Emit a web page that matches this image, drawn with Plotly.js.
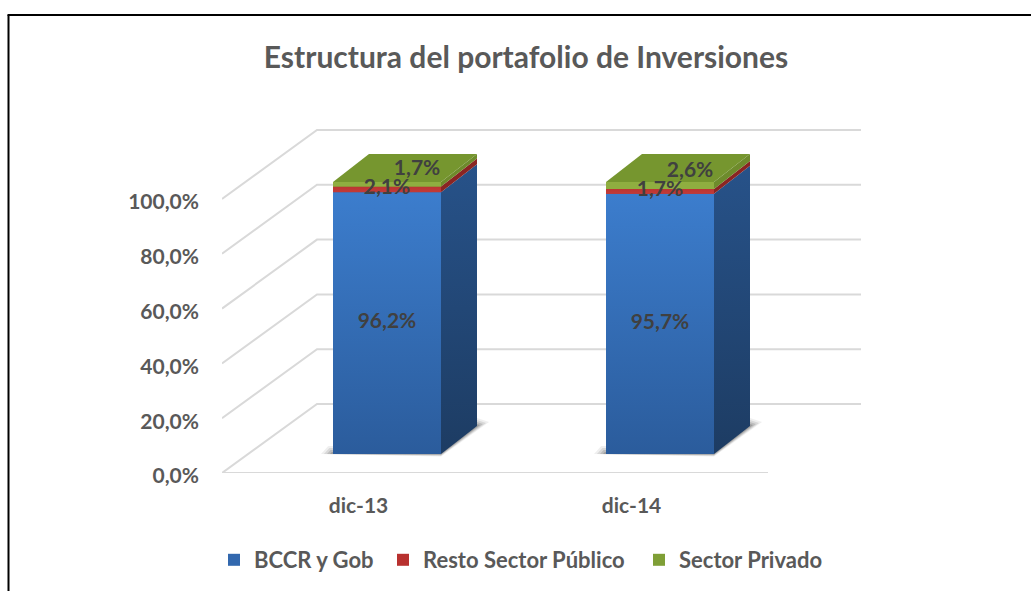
<!DOCTYPE html>
<html>
<head>
<meta charset="utf-8">
<script src="https://cdn.plot.ly/plotly-3.0.1.min.js"></script>
<style>html,body{margin:0;padding:0;background:#fff}</style>
</head>
<body>
<div id="chart" style="width:1031px;height:591px"></div>
<script>
const categories = ['dic-13', 'dic-14'];
const bccr = [96.2, 95.7];
const resto = [2.1, 1.7];
const privado = [1.7, 2.6];
const axisTicks = [0, 20, 40, 60, 80, 100];

const W = 1031, H = 591;
const FONT = 'Lato, Carlito, sans-serif';
const GREY = '#595959';
const pxX = 273, pxY = 2.74, pxY2 = 2.72;
const L = 222, R = 861, B = 473, T = 125;
const xr0 = -0.5, xr1 = xr0 + (R - L) / pxX;
const yr1 = (B - T) / pxY;
const wallDX = 95 / pxX, wallDY = 69 / pxY;
const barW = 108 / pxX, barLeft = -25.5 / pxX;
const depX = 36 / pxX, depY = 28 / pxY2;

const seriesDefs = [
  {name: 'BCCR y Gob', vals: bccr, solid: '#3268ae', front: ['#2b5c9c', '#3c7dcd'], side: ['#1d3c63', '#275289'], lw: 124},
  {name: 'Resto Sector Público', vals: resto, solid: '#b8312f', front: ['#c23b38', '#bb3532'], side: ['#8a2523', '#8a2523'], lw: 211},
  {name: 'Sector Privado', vals: privado, solid: '#7f9f36', front: ['#8fae40', '#8fae40'], side: ['#6e8b2c', '#6e8b2c'], lw: 145}
];

function fmt(v) { return v.toFixed(1).replace('.', ',') + '%'; }
function poly(xs, ys, colors, yaxis, opacity) {
  const t = {
    type: 'scatter', mode: 'lines', x: xs.concat(xs[0]), y: ys.concat(ys[0]),
    fill: 'toself', line: {width: 0, color: 'rgba(0,0,0,0)'}, yaxis: yaxis,
    showlegend: false, hoverinfo: 'skip', opacity: opacity === undefined ? 1 : opacity
  };
  if (colors[0] === colors[1]) t.fillcolor = colors[0];
  else t.fillgradient = {type: 'vertical', colorscale: [[0, colors[0]], [1, colors[1]]]};
  return t;
}
function line(xs, ys) {
  return {type: 'scatter', mode: 'lines', x: xs, y: ys, yaxis: 'y',
    line: {color: '#d9d9d9', width: 2}, showlegend: false, hoverinfo: 'skip'};
}

const traces = [];
axisTicks.forEach(v => {
  traces.push(line([xr0, xr0 + wallDX, xr1], [v, v + wallDY, v + wallDY]));
});
traces.push(line([xr0, xr0 + 546 / pxX], [0, 0]));

// soft contact shadows on the floor, stacked translucent layers
const floorY = 19 / pxY;
categories.forEach((c, i) => {
  const xl = i + barLeft, xre = xl + barW;
  [[12, 8, 0.08], [9, 6, 0.12], [6, 4, 0.16], [3, 2, 0.22]].forEach(s => {
    const ex = s[0] / pxX, ey = s[1] / pxY;
    traces.push(poly(
      [xl - ex, xre, xre + depX + ex, xre + depX, xre, xl - ex * 0.4],
      [floorY, floorY - ey * 0.3, floorY + depY * pxY2 / pxY + ey * 0.5, floorY + depY * pxY2 / pxY + ey, floorY + ey, floorY + ey],
      ['#303030', '#303030'], 'y', s[2]));
  });
});

seriesDefs.forEach(s => {
  traces.push({
    type: 'bar', name: s.name, x: categories.map((c, i) => i), y: s.vals, yaxis: 'y2',
    width: barW, offset: barLeft, marker: {color: s.solid, line: {width: 0}}, hoverinfo: 'skip',
    legendwidth: s.lw
  });
});

categories.forEach((c, i) => {
  const xl = i + barLeft, xre = xl + barW;
  let lo = 0;
  seriesDefs.forEach(s => {
    const hi = lo + s.vals[i];
    traces.push(poly([xl, xre, xre, xl], [lo, lo, hi, hi], s.front, 'y2'));
    traces.push(poly([xre, xre + depX, xre + depX, xre], [lo, lo + depY, hi + depY, hi], s.side, 'y2'));
    lo = hi;
  });
  traces.push(poly([xl, xre, xre + depX, xl + depX], [lo, lo, lo + depY, lo + depY], ['#76962f', '#76962f'], 'y2'));
});

const lx = [], ly = [], lt = [];
categories.forEach((c, i) => {
  const mid = i + barLeft + barW / 2;
  lx.push(mid); ly.push(bccr[i] / 2); lt.push(fmt(bccr[i]));
  lx.push(mid); ly.push(bccr[i] + resto[i] / 2 + 0.3); lt.push(fmt(resto[i]));
  lx.push(mid + 0.11); ly.push(bccr[i] + resto[i] + privado[i] / 2 + 5.2); lt.push(fmt(privado[i]));
});
traces.push({type: 'scatter', mode: 'text', x: lx, y: ly, text: lt, yaxis: 'y2',
  textposition: 'middle center', textfont: {family: FONT, size: 21, color: '#404040', weight: 700},
  showlegend: false, hoverinfo: 'skip'});

const layout = {
  width: W, height: H, autosize: false,
  margin: {l: 0, r: 0, t: 0, b: 0},
  paper_bgcolor: '#ffffff', plot_bgcolor: 'rgba(0,0,0,0)',
  barmode: 'stack', bargap: 0,
  font: {family: FONT, color: GREY},
  title: {text: '<b>Estructura del portafolio de Inversiones</b>', x: 526 / W, xanchor: 'center',
    y: 1 - 57 / H, yanchor: 'middle', font: {family: FONT, size: 30, color: GREY}},
  xaxis: {domain: [L / W, R / W], range: [xr0, xr1], tickmode: 'array', tickvals: categories.map((c, i) => i),
    ticktext: categories.map(c => '<b>' + c + '</b>'), showgrid: false, zeroline: false, showline: false,
    ticks: '', ticklabelstandoff: 18, tickfont: {family: FONT, size: 21, color: GREY}, fixedrange: true},
  yaxis: {domain: [(H - B) / H, (H - T) / H], range: [0, yr1], tickmode: 'array', tickvals: axisTicks,
    ticktext: axisTicks.map(v => '<b>' + fmt(v) + '</b>'), showgrid: false, zeroline: false, showline: false,
    ticks: '', ticklabelstandoff: 22, ticklabelshift: 3, tickfont: {family: FONT, size: 21, color: GREY}, fixedrange: true},
  yaxis2: {overlaying: 'y', anchor: 'x', range: [-19 / pxY2, (B - T - 19) / pxY2], visible: false, fixedrange: true},
  legend: {orientation: 'h', x: 214 / W, y: 1 - 560 / H, xanchor: 'left', yanchor: 'middle',
    traceorder: 'normal', font: {family: FONT, size: 22, color: GREY, weight: 700}, itemwidth: 30,
    bgcolor: 'rgba(0,0,0,0)'},
  shapes: [
    {type: 'line', xref: 'paper', yref: 'paper', x0: 7.5 / W, x1: 1, y0: 1 - 15 / H, y1: 1 - 15 / H, line: {color: '#000', width: 2}},
    {type: 'line', xref: 'paper', yref: 'paper', x0: 8.5 / W, x1: 8.5 / W, y0: 1 - 15 / H, y1: 0, line: {color: '#000', width: 2}}
  ]
};
Plotly.newPlot('chart', traces, layout, {displayModeBar: false, staticPlot: true});
</script>
</body>
</html>
